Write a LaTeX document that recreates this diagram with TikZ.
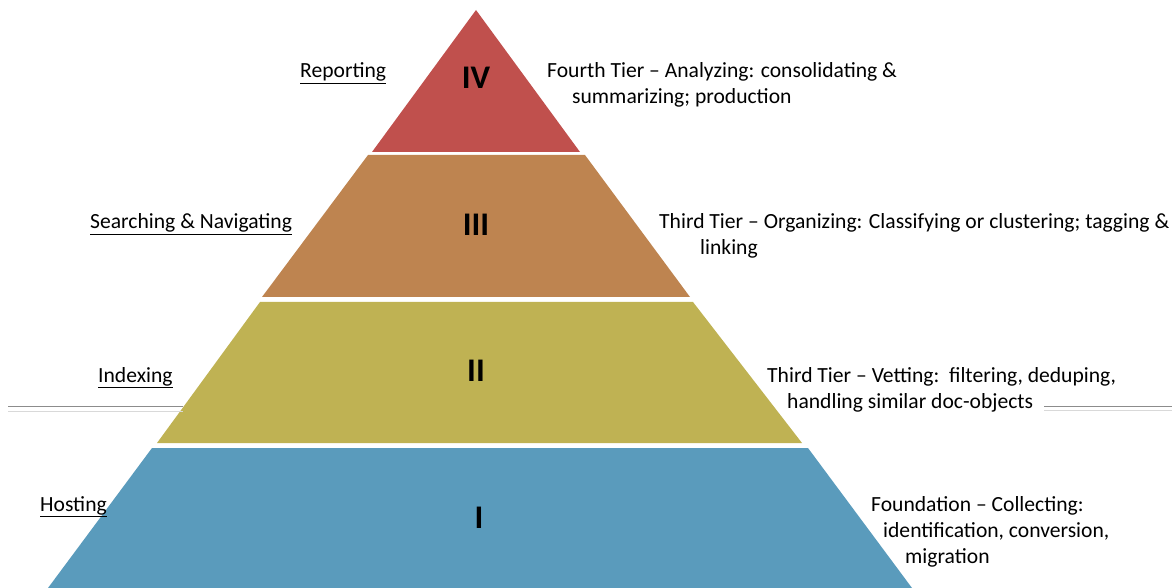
\documentclass[tikz,border=0pt]{standalone}
\usepackage{fontspec}
\setmainfont{Carlito}
\definecolor{tierI}{HTML}{5A9BBC}
\definecolor{tierII}{HTML}{BFB253}
\definecolor{tierIII}{HTML}{BE8450}
\definecolor{tierIV}{HTML}{C0504D}
\tikzset{
  tier/.style={draw=none},
  numeral/.style={font=\fontsize{33}{38}\selectfont\bfseries, text=black},
  lefttxt/.style={anchor=base west, font=\fontsize{21.6}{26}\selectfont, inner sep=0pt},
  righttxt/.style={anchor=base west, font=\fontsize{21.6}{26}\selectfont, inner sep=0pt},
}
\begin{document}
\begin{tikzpicture}[x=1pt,y=-1pt]
\useasboundingbox (0,0) rectangle (1176,588);
% tiers
\fill[tierIV] (476,10) -- (580,152) -- (372,152) -- cycle;
\fill[tierIII] (368,155) -- (585,155) -- (690,297) -- (262,297) -- cycle;
\fill[tierII] (260,302) -- (693,302) -- (802,443) -- (157,443) -- cycle;
\fill[tierI] (152,448) -- (808,448) -- (912,588) -- (48,588) -- cycle;
% faint guide lines
\draw[gray!90, line width=0.8pt] (8,406) -- (183,406);
\draw[gray!30, line width=0.8pt] (8,411) -- (183,411);
\draw[gray!90, line width=0.8pt] (1044,406) -- (1172,406);
\draw[gray!30, line width=0.8pt] (1044,410) -- (1172,410);
% numerals
\node[numeral] (n4) at (476,78) {IV};
\node[numeral] (n3) at (476,225) {III};
\node[numeral] (n2) at (476,371) {II};
\node[numeral] (n1) at (479,518) {I};
% left labels
\node[lefttxt] (l4) at (300,78) {\underline{Reporting}};
\node[lefttxt] (l3) at (90,229) {\underline{Searching \& Navigating}};
\node[lefttxt] (l2) at (98,382) {\underline{Indexing}};
\node[lefttxt] (l1) at (40,511) {\underline{Hosting}};
% right descriptions
\node[righttxt] (r4a) at (547,78) {Fourth Tier – Analyzing: consolidating \&};
\node[righttxt] (r4b) at (572,104) {summarizing; production};
\node[righttxt] (r3a) at (659,229) {Third Tier – Organizing: Classifying or clustering; tagging \&};
\node[righttxt] (r3b) at (700,255) {linking};
\node[righttxt] (r2a) at (767,382) {Third Tier – Vetting:\ \ filtering, deduping,};
\node[righttxt] (r2b) at (787,408) {handling similar doc-objects};
\node[righttxt] (r1a) at (871,511) {Foundation – Collecting:};
\node[righttxt] (r1b) at (883,537) {identification, conversion,};
\node[righttxt] (r1c) at (905,563) {migration};
\end{tikzpicture}
\end{document}
